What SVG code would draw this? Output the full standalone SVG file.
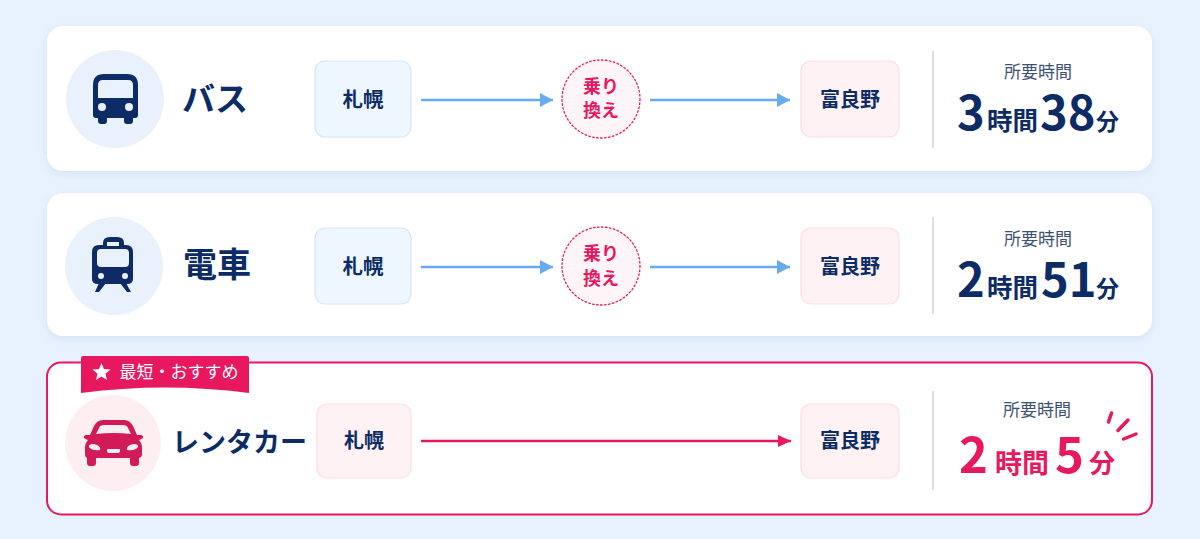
<svg xmlns="http://www.w3.org/2000/svg" width="1200" height="539" viewBox="0 0 1200 539">
<defs>
<style>
text{font-family:"Noto Sans CJK JP","Noto Sans",sans-serif;}
.card{fill:#fff;filter:url(#sh);}
.navy{fill:#0d2c66;}
.pink{fill:#e8185f;}
.lbl{font-size:33px;font-weight:700;fill:#0d2c66;text-anchor:middle;}
.st{font-size:20px;font-weight:700;fill:#0d2c66;text-anchor:middle;}
.bl{fill:#eef6ff;stroke:#d3e5f8;stroke-width:1.2;}
.rd{fill:#fff2f5;stroke:#fbdde5;stroke-width:1.2;}
.tr{fill:#fff5f8;stroke:#e8185f;stroke-width:1.3;stroke-dasharray:1.6 2.4;stroke-linecap:round;}
.trt{font-size:18px;font-weight:700;fill:#e8185f;text-anchor:middle;}
.cap{font-size:17px;font-weight:400;fill:#3d5273;text-anchor:middle;}
.big{font-size:47px;font-weight:700;}
.unit{font-size:25.500px;font-weight:700;}
.unit2{font-size:23px;font-weight:700;}
.div{stroke:#d3d6dc;stroke-width:1.6;}
.lnb{stroke:#66aaf0;stroke-width:2.6;fill:none;}
.lnp{stroke:#e8185f;stroke-width:2.4;fill:none;}
</style>
<filter id="sh" x="-5%" y="-20%" width="110%" height="140%"><feDropShadow dx="0" dy="3" stdDeviation="5" flood-color="#8fb0dc" flood-opacity="0.22"/></filter>
<marker id="ab" markerUnits="userSpaceOnUse" markerWidth="14" markerHeight="16" refX="13" refY="8" orient="auto"><path d="M0 1L13 8L0 15Z" fill="#66aaf0"/></marker>
<marker id="ap" markerUnits="userSpaceOnUse" markerWidth="14" markerHeight="14" refX="13" refY="7" orient="auto"><path d="M0 1L13 7L0 13Z" fill="#e8185f"/></marker>
</defs>
<rect width="1200" height="539" fill="#e8f2fe"/>
<g id="card-bus">
<rect class="card" x="47" y="26" width="1105" height="145" rx="16"/>
<circle cx="115" cy="99" r="49" fill="#e8f1fc"/>
<g id="icon-bus">
<path class="navy" fill-rule="evenodd" d="M104 74H127Q138 74 138 85V115Q138 118 135 118H133V121Q133 124 130 124H127Q124 124 124 121V118H107V121Q107 124 104 124H101Q98 124 98 121V118H96Q93 118 93 115V85Q93 74 104 74ZM103 80Q98 80 98 85V98H133V85Q133 80 128 80ZM102 103A4 4 0 1 0 102 111A4 4 0 1 0 102 103ZM129 103A4 4 0 1 0 129 111A4 4 0 1 0 129 103Z"/>
</g>
<text class="lbl" x="215" y="111">バス</text>
<rect class="bl" x="315" y="61" width="96" height="76" rx="10"/>
<text class="st" x="363" y="107" style="font-size:20.500px">札幌</text>
<circle class="tr" cx="601" cy="99" r="39"/>
<text class="trt" x="601" y="93">乗り</text>
<text class="trt" x="601" y="117">換え</text>
<rect class="rd" x="801" y="61" width="98" height="76" rx="10"/>
<text class="st" x="850" y="107">富良野</text>
<line class="div" x1="933" y1="51" x2="933" y2="148"/>
<text class="cap" x="1038" y="78">所要時間</text>
<text class="navy" y="130"><tspan class="big" x="957">3</tspan><tspan class="unit" x="987">時間</tspan><tspan class="big" x="1040">38</tspan><tspan class="unit2" x="1096">分</tspan></text>
</g>
<g id="card-train">
<rect class="card" x="47" y="193" width="1105" height="143" rx="16"/>
<circle cx="114" cy="266" r="49" fill="#e8f1fc"/>
<g id="icon-train">
<path class="navy" fill-rule="evenodd" d="M110 237H117Q124 237 124 243V245H126Q133 245 133 252V279Q133 284 127 284H98Q92 284 92 279V252Q92 245 99 245H103V243Q103 237 110 237ZM107 242V246H119V242ZM101 249Q97 249 97 253V263Q97 267 101 267H125Q129 267 129 263V253Q129 249 125 249ZM101 273A3 3 0 1 0 101 279A3 3 0 1 0 101 273ZM125 273A3 3 0 1 0 125 279A3 3 0 1 0 125 273Z"/>
<path class="navy" d="M99 283H106L99 292H95ZM120 283H126L131 292H127Z"/>
</g>
<text class="lbl" x="217" y="277" style="font-size:34px">電車</text>
<rect class="bl" x="315" y="228" width="96" height="76" rx="10"/>
<text class="st" x="363" y="274" style="font-size:20.500px">札幌</text>
<circle class="tr" cx="601" cy="266" r="39"/>
<text class="trt" x="601" y="260">乗り</text>
<text class="trt" x="601" y="285">換え</text>
<rect class="rd" x="801" y="228" width="98" height="76" rx="10"/>
<text class="st" x="850" y="274">富良野</text>
<line class="div" x1="933" y1="217" x2="933" y2="314"/>
<text class="cap" x="1038" y="245">所要時間</text>
<text class="navy" y="297"><tspan class="big" x="957">2</tspan><tspan class="unit" x="987">時間</tspan><tspan class="big" x="1041">51</tspan><tspan class="unit2" x="1096">分</tspan></text>
</g>
<g id="card-car">
<rect x="47" y="362.500" width="1105" height="152" rx="14" fill="#fff" stroke="#e8185f" stroke-width="2"/>
<circle cx="113" cy="443" r="48" fill="#fdeef2"/>
<g id="icon-car">
<path fill="#d31a58" fill-rule="evenodd" d="M103 420H124Q130 420 133 426L137 435H141Q144 436 143 438Q142 439 139 440Q142 443 142 448V455Q142 457 139 458V463Q139 466 136 466H133Q130 466 130 463V458H96V463Q96 466 93 466H90Q87 466 87 463V458Q85 457 85 455V448Q85 443 88 440Q85 439 84 438Q83 436 86 435H90L94 426Q97 420 103 420ZM104 425Q100 425 99 428L96 434Q114 432 131 434L128 428Q127 425 123 425ZM92 444Q88 445 89 447Q92 451 100 450Q101 447 97 445Q95 444 92 444ZM135 444Q132 444 130 445Q126 447 127 450Q135 451 138 447Q139 445 135 444ZM107 449V451Q107 453 109 453H118Q120 453 120 451V449Z"/>
</g>
<text class="lbl" x="239.500" y="452" style="font-size:27px">レンタカー</text>
<path d="M81 358Q81 356 83 356H247Q249 356 249 358V393Q165 382 81 393Z" fill="#e8185f"/>
<path d="M101.500 363L104 369L110.500 369.500L105.500 373.700L107 380L101.500 376.600L96 380L97.500 373.700L92.500 369.500L99 369Z" fill="#fff"/>
<text x="179" y="378" font-size="17" font-weight="400" fill="#fff" text-anchor="middle">最短・おすすめ</text>
<rect class="rd" x="317" y="404" width="94" height="74" rx="10"/>
<text class="st" x="364" y="448">札幌</text>
<rect class="rd" x="801" y="404" width="98" height="74" rx="10"/>
<text class="st" x="850" y="448">富良野</text>
<line class="div" x1="933" y1="391" x2="933" y2="490"/>
<text class="cap" x="1037" y="416">所要時間</text>
<text class="pink" y="473"><tspan class="big" x="959" style="font-size:49px">2</tspan><tspan class="unit" x="995" style="font-size:27px">時間</tspan><tspan class="big" x="1055" style="font-size:49px">5</tspan><tspan class="unit2" x="1089" style="font-size:26px">分</tspan></text>
<path d="M1108.500 422L1111.500 413M1118 430.500L1128 420M1123.500 439L1136 434" stroke="#e8185f" stroke-width="3.500" stroke-linecap="round" fill="none"/>
</g>
<g id="connectors">
<path class="lnb" d="M421 100H553" marker-end="url(#ab)"/>
<path class="lnb" d="M650 100H790" marker-end="url(#ab)"/>
<path class="lnb" d="M421 267H553" marker-end="url(#ab)"/>
<path class="lnb" d="M650 267H790" marker-end="url(#ab)"/>
<path class="lnp" d="M421 441H791" marker-end="url(#ap)"/>
</g>
</svg>
